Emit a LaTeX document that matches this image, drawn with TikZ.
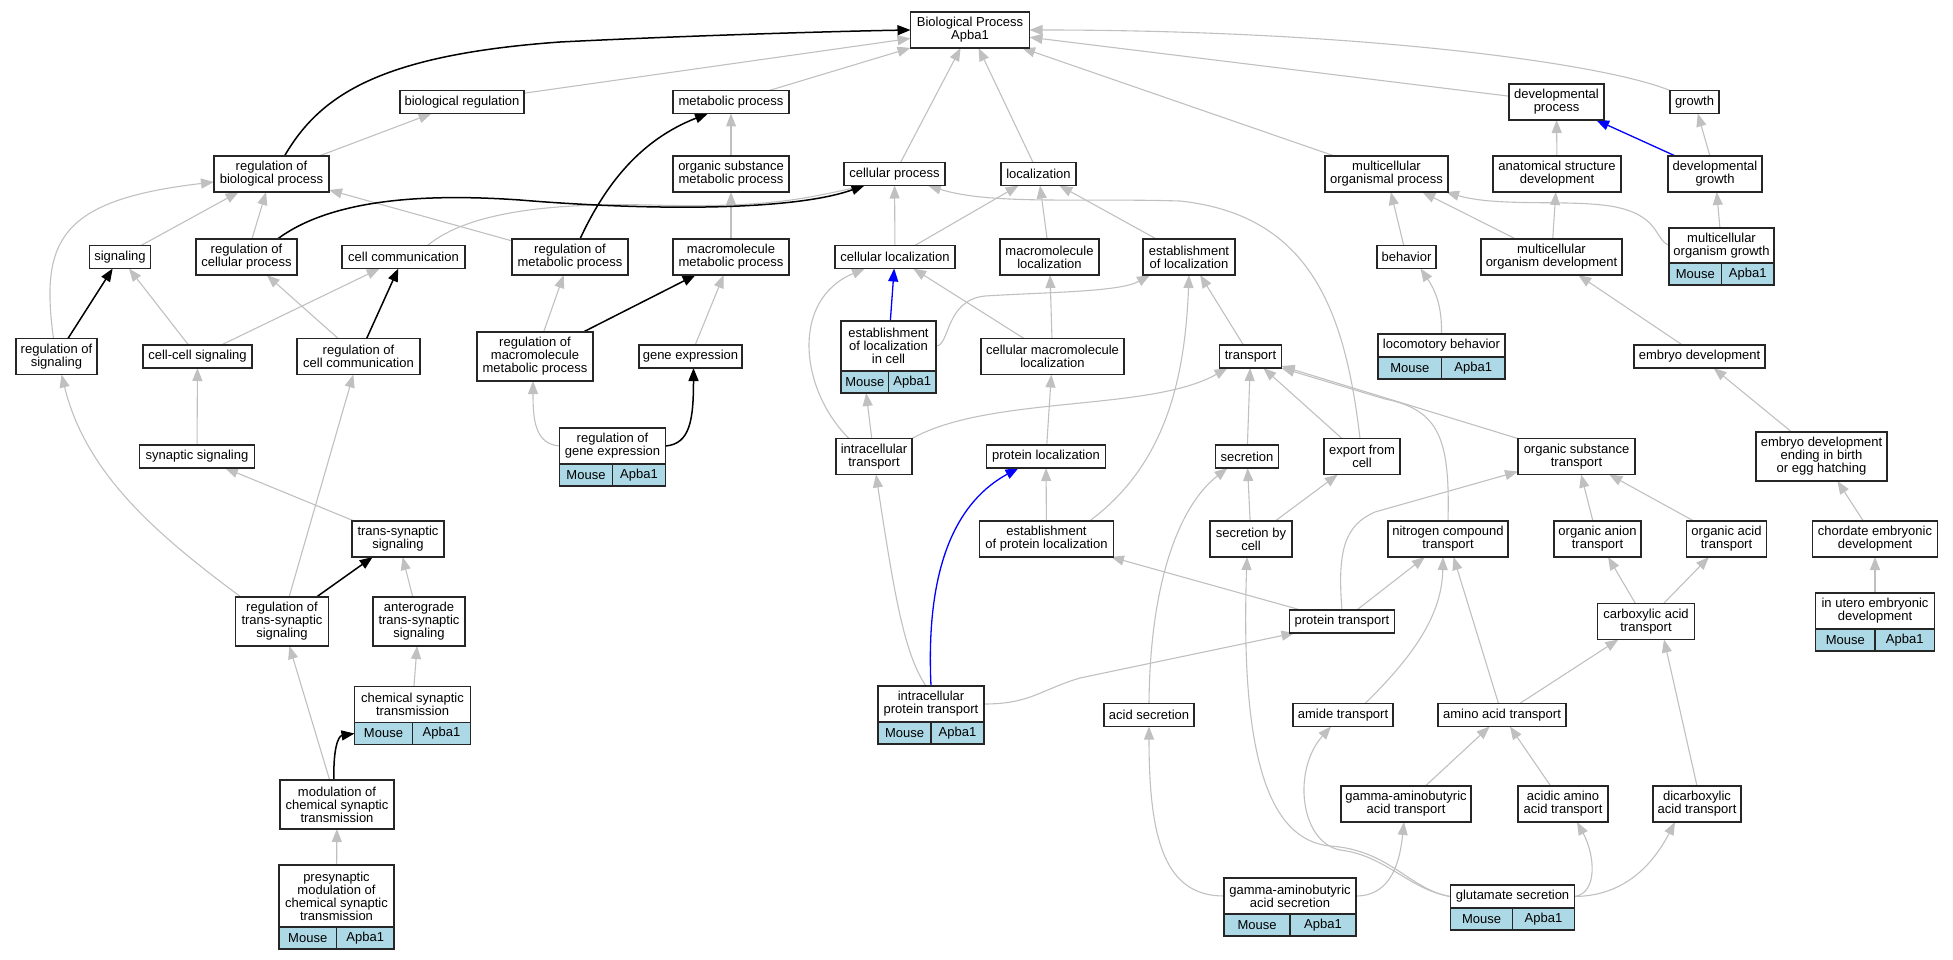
\documentclass[tikz,border=0pt]{standalone}
\usepackage{fontspec}
\setmainfont{Liberation Sans}
\usetikzlibrary{arrows.meta}
\usetikzlibrary{backgrounds}
\definecolor{edgegray}{HTML}{C0C0C0}
\definecolor{genebox}{HTML}{ADD8E6}
\newcommand{\geneterm}[5]{%
 \node[term, minimum width=#3, minimum height=#4] (#1) at (#2) {#5};
 \node[gcell, minimum width=#3/2, anchor=north west] (#1-m) at (#1.south west) {Mouse};
 \node[gcell, minimum width=#3/2, anchor=north east] (#1-a) at (#1.south east) {Apba1};
}
\begin{document}
\begin{tikzpicture}[x=1pt, y=-1pt, >={Triangle[length=13pt,width=10pt]},
 term/.style={draw=black!85, line width=1.2pt, fill=white, align=center, inner xsep=2pt, inner ysep=1pt, outer sep=0pt, font=\fontsize{13}{13}\selectfont},
 gcell/.style={term, fill=genebox, minimum height=22},
 h1/.style={minimum height=23}, h2/.style={minimum height=36}, h3/.style={minimum height=49},
 isa/.style={draw=edgegray, line width=1.1pt, ->},
 reg/.style={draw=black, line width=1.5pt, ->},
 prt/.style={draw=blue, line width=1.3pt, ->}]
\useasboundingbox (0,0) rectangle (1953,960);
\node[term, minimum width=119, h2] (BP) at (970,30) {Biological Process\\Apba1};
\node[term, minimum width=124, h1] (br) at (462,102) {biological regulation};
\node[term, minimum width=116, h1] (mp) at (731,102) {metabolic process};
\node[term, minimum width=95, h2] (dp) at (1556.5,102) {developmental\\process};
\node[term, minimum width=49, h1] (gr) at (1694.5,102) {growth};
\node[term, minimum width=115, h2] (rbp) at (271.5,174) {regulation of\\biological process};
\node[term, minimum width=116, h2] (omp) at (731,174) {organic substance\\metabolic process};
\node[term, minimum width=101, h1] (cp) at (894.5,174) {cellular process};
\node[term, minimum width=75, h1] (loc) at (1038.5,174) {localization};
\node[term, minimum width=123, h2] (mop) at (1386.5,174) {multicellular\\organismal process};
\node[term, minimum width=128, h2] (asd) at (1557,174) {anatomical structure\\development};
\node[term, minimum width=94, h2] (dg) at (1715,174) {developmental\\growth};
\node[term, minimum width=61, h1] (sig) at (120,257) {signaling};
\node[term, minimum width=101, h2] (rcp) at (246.5,257) {regulation of\\cellular process};
\node[term, minimum width=123, h1] (cc) at (403.5,257) {cell communication};
\node[term, minimum width=116, h2] (rmp) at (570,257) {regulation of\\metabolic process};
\node[term, minimum width=116, h2] (mmp) at (731,257) {macromolecule\\metabolic process};
\node[term, minimum width=120, h1] (cl) at (895,257) {cellular localization};
\node[term, minimum width=99, h2] (ml) at (1049.5,257) {macromolecule\\localization};
\node[term, minimum width=92, h2] (eol) at (1189,257) {establishment\\of localization};
\node[term, minimum width=59, h1] (beh) at (1406.5,257) {behavior};
\node[term, minimum width=141, h2] (mod) at (1551.5,257) {multicellular\\organism development};
\geneterm{mog}{1721.5,245.5}{105}{35}{multicellular\\organism growth}
\node[term, minimum width=81, h2] (rs) at (56.5,356.5) {regulation of\\signaling};
\node[term, minimum width=109, h1] (ccs) at (197.5,356.5) {cell-cell signaling};
\node[term, minimum width=123, h2] (rcc) at (358.5,356.5) {regulation of\\cell communication};
\node[term, minimum width=116, h3] (rmmp) at (535,356.5) {regulation of\\macromolecule\\metabolic process};
\node[term, minimum width=103, h1] (ge) at (690.5,356.5) {gene expression};
\geneterm{eolc}{888.5,346}{95}{50}{establishment\\of localization\\in cell}
\node[term, minimum width=143, h2] (cml) at (1052.5,356.5) {cellular macromolecule\\localization};
\node[term, minimum width=62, h1] (tr) at (1250.5,356.5) {transport};
\geneterm{lb}{1441.5,345.5}{127}{23}{locomotory behavior}
\node[term, minimum width=131, h1] (ed) at (1699.5,356.5) {embryo development};
\node[term, minimum width=115, h1] (ss) at (197,456.5) {synaptic signaling};
\geneterm{rge}{612.5,446}{106}{36}{regulation of\\gene expression}
\node[term, minimum width=76, h2] (it) at (874,456.5) {intracellular\\transport};
\node[term, minimum width=119, h1] (pl) at (1046,456.5) {protein localization};
\node[term, minimum width=63, h1] (sec) at (1247,456.5) {secretion};
\node[term, minimum width=76, h2] (efc) at (1362,456.5) {export from\\cell};
\node[term, minimum width=117, h2] (ost) at (1576.5,456.5) {organic substance\\transport};
\node[term, minimum width=131, h3] (edeb) at (1821.5,456.5) {embryo development\\ending in birth\\or egg hatching};
\node[term, minimum width=92, h2] (tss) at (398,539) {trans-synaptic\\signaling};
\node[term, minimum width=134, h2] (epl) at (1046.5,539) {establishment\\of protein localization};
\node[term, minimum width=82, h2] (sbc) at (1251,539) {secretion by\\cell};
\node[term, minimum width=120, h2] (nct) at (1448,539) {nitrogen compound\\transport};
\node[term, minimum width=87, h2] (oat) at (1597.5,539) {organic anion\\transport};
\node[term, minimum width=80, h2] (oact) at (1726.5,539) {organic acid\\transport};
\node[term, minimum width=125, h2] (ced) at (1875,539) {chordate embryonic\\development};
\node[term, minimum width=93, h3] (rtss) at (282,621.5) {regulation of\\trans-synaptic\\signaling};
\node[term, minimum width=92, h3] (ats) at (419,621.5) {anterograde\\trans-synaptic\\signaling};
\node[term, minimum width=105, h1] (pt) at (1342,621.5) {protein transport};
\node[term, minimum width=97, h2] (cat) at (1646,621.5) {carboxylic acid\\transport};
\geneterm{iued}{1875,611}{119}{36}{in utero embryonic\\development}
\geneterm{cst}{412.5,704.5}{116}{36}{chemical synaptic\\transmission}
\geneterm{ipt}{931,704}{106}{36}{intracellular\\protein transport}
\node[term, minimum width=90, h1] (as) at (1149,715) {acid secretion};
\node[term, minimum width=100, h1] (amt) at (1343,715) {amide transport};
\node[term, minimum width=128, h1] (aat) at (1502,715) {amino acid transport};
\node[term, minimum width=114, h3] (mcst) at (337,804.5) {modulation of\\chemical synaptic\\transmission};
\node[term, minimum width=130, h2] (gat) at (1406,804) {gamma-aminobutyric\\acid transport};
\node[term, minimum width=90, h2] (aaat) at (1563,804) {acidic amino\\acid transport};
\node[term, minimum width=88, h2] (dct) at (1697,804) {dicarboxylic\\acid transport};
\geneterm{pmcst}{336.5,896}{115}{62}{presynaptic\\modulation of\\chemical synaptic\\transmission}
\geneterm{gas}{1290,896}{132}{36}{gamma-aminobutyric\\acid secretion}
\geneterm{gs}{1512.5,896.5}{124}{23}{glutamate secretion}
\begin{pgfonlayer}{background}
% is_a, straight
\foreach \a/\b in {br/BP, mp/BP, cp/BP, loc/BP, mop/BP, dp/BP, rbp/br, omp/mp, sig/rbp, rcp/rbp, rmp/rbp, mmp/omp, cl/cp, cl/loc, ml/loc, eol/loc, cml/cl, cml/ml, tr/eol, pl/cml, epl/pl, it/eolc-m, sec/tr, efc/tr, ost/tr, sbc/sec, sbc/efc, gat/aat, aaat/aat, aat/nct, aat/cat, pt/nct, pt/epl, oat/ost, oact/ost, cat/oat, cat/oact, ccs/sig, ccs/cc, rcc/rcp, rmmp/rmp, ge/mmp, ss/ccs, tss/ss, rtss/rcc, ats/tss, cst/ats, mcst/rtss, pmcst/mcst, dg/gr, asd/dp, mog/dg, mod/mop, mod/asd, beh/mop, ed/mod, edeb/ed, ced/edeb, iued/ced}
 \draw[isa] (\a) -- (\b);
\foreach \a/\b in {rs/sig, rcc/cc, rmmp/mmp, rtss/tss}
 \draw[reg] (\a) -- (\b);
\foreach \a/\b in {eolc/cl, dg/dp}
 \draw[prt] (\a) -- (\b);
\draw[isa] (dct.north) -- ([xshift=18]cat.south);
% curved ones
\draw[isa] (gr.north west) .. controls (1600,62) and (1350,30) .. (BP.east);
\draw[isa] ([xshift=-3]rs.north) .. controls (40,240) and (60,200) .. ([yshift=-8]rbp.west);
\draw[isa] ([xshift=24]cc.north) .. controls (470,210) and (560,203) .. (650,205) .. controls (760,208) and (800,200) .. ([xshift=-30]cp.south);
\draw[isa] ([xshift=-2]efc.north) .. controls (1345,310) and (1310,215) .. (1180,201) .. controls (1080,198) and (990,205) .. ([xshift=-17]cp.south east);
\draw[isa] (eolc.east) .. controls (950,346) and (945,300) .. (985,296) .. controls (1050,292) and (1120,292) .. ([xshift=7]eol.south west);
\draw[isa] ([xshift=-25]it.north) .. controls (800,390) and (790,300) .. ([xshift=-30]cl.south);
\draw[isa] (it.north east) .. controls (990,395) and (1150,412) .. ([xshift=8]tr.south west);
\draw[isa] ([xshift=43]epl.north) .. controls (1165,465) and (1185,380) .. (eol.south);
\draw[isa] ([xshift=-5]ipt.north) .. controls (905,655) and (895,600) .. ([xshift=2]it.south);
\draw[isa] (ipt.east) .. controls (1030,704) and (1040,690) .. (1080,678) -- ([xshift=5]pt.south west);
\draw[isa] (nct.north) .. controls (1450,440) and (1440,410) .. (1385,399) -- (tr.south east);
\draw[isa] (as.north) .. controls (1150,580) and (1180,505) .. ([xshift=12]sec.south west);
\draw[isa] (gs.west) .. controls (1410,890) and (1390,850) .. (1330,846) .. controls (1270,840) and (1240,760) .. ([xshift=-4]sbc.south);
\draw[isa] (gs.west) .. controls (1410,890) and (1385,855) .. (1340,850) .. controls (1300,842) and (1292,770) .. ([xshift=-12]amt.south);
\draw[isa] (gs.east) .. controls (1598,893) and (1595,855) .. ([xshift=14]aaat.south);
\draw[isa] (gs.east) .. controls (1620,896) and (1650,870) .. ([xshift=-22]dct.south);
\draw[isa] (gas.west) .. controls (1165,896) and (1149,840) .. (as.south);
\draw[isa] (gas.east) .. controls (1392,896) and (1400,860) .. ([xshift=-2]gat.south);
\draw[isa] ([xshift=22]amt.north) .. controls (1420,650) and (1442,610) .. ([xshift=-5]nct.south);
\draw[isa] (pt.north) .. controls (1337,550) and (1345,525) .. (1375,512) -- ([yshift=3]ost.south west);
\draw[isa] (rge.west) .. controls (535,444) and (533,420) .. ([xshift=-2]rmmp.south);
\draw[isa] ([xshift=-41]rtss.north) .. controls (150,530) and (85,470) .. ([xshift=5]rs.south);
\draw[isa] (mog.west) .. controls (1655,240) and (1660,218) .. (1620,208) .. controls (1580,198) and (1500,208) .. ([xshift=-2]mop.south east);
\draw[isa] (lb.north) .. controls (1442,305) and (1435,290) .. ([xshift=14]beh.south);
\draw[reg] ([xshift=13]rbp.north) .. controls (320,95) and (380,55) .. (560,42) .. controls (700,35) and (850,31) .. (BP.west);
\draw[reg] ([xshift=31]rcp.north) .. controls (330,200) and (420,193) .. (520,200) .. controls (640,210) and (790,212) .. ([xshift=-30]cp.south);
\draw[reg] ([xshift=10]rmp.north) .. controls (605,185) and (640,140) .. ([xshift=-23]mp.south);
\draw[reg] (rge.east) .. controls (690,444) and (693.5,420) .. ([xshift=3]ge.south);
\draw[reg] ([xshift=-3]mcst.north) .. controls (333,750) and (338,736) .. (cst-m.west);
\draw[prt] (ipt.north) .. controls (925,560) and (960,500) .. ([xshift=32]pl.south west);
\end{pgfonlayer}
\end{tikzpicture}
\end{document}
